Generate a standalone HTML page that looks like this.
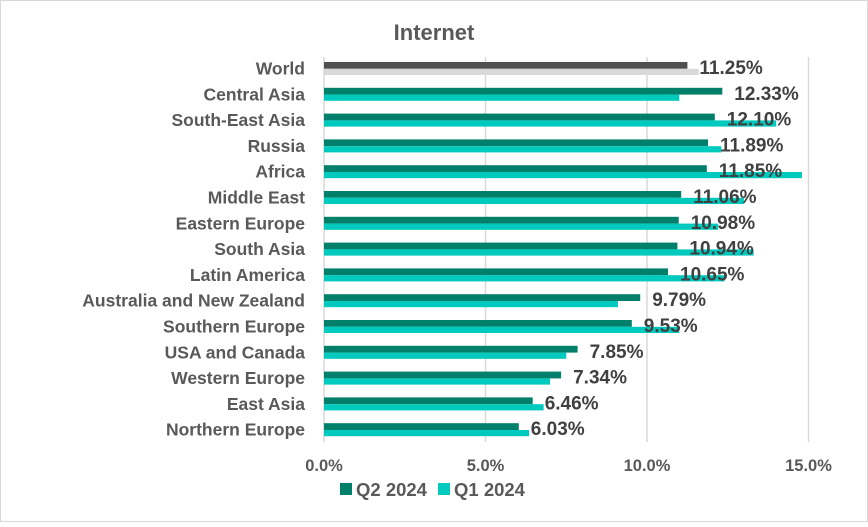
<!DOCTYPE html>
<html><head><style>
body{margin:0;background:#fff;}
svg text{font-family:"Liberation Sans",Arial,sans-serif;}
</style></head><body>
<svg width="868" height="522" xmlns="http://www.w3.org/2000/svg">
<rect x="0.5" y="0.5" width="867" height="521" fill="#fff" stroke="#d9d9d9"/>
<text x="434" y="40" text-anchor="middle" font-size="22" font-weight="bold" fill="#595959">Internet</text>
<g stroke="#d9d9d9" stroke-width="1.5">
<line x1="324" y1="57" x2="324" y2="442"/>
<line x1="485.5" y1="57" x2="485.5" y2="442"/>
<line x1="647" y1="57" x2="647" y2="442"/>
<line x1="808.5" y1="57" x2="808.5" y2="442"/>
</g>
<g>
<rect x="324" y="62" width="363.4" height="6.8" fill="#505050"/><rect x="324" y="68.8" width="374.7" height="6.2" fill="#d9d9d9"/>
<rect x="324" y="87.8" width="398.3" height="6.8" fill="#00806a"/><rect x="324" y="94.6" width="355.3" height="6.2" fill="#00c9bd"/>
<rect x="324" y="113.6" width="390.8" height="6.8" fill="#00806a"/><rect x="324" y="120.4" width="452.2" height="6.2" fill="#00c9bd"/>
<rect x="324" y="139.4" width="384.0" height="6.8" fill="#00806a"/><rect x="324" y="146.2" width="397.3" height="6.2" fill="#00c9bd"/>
<rect x="324" y="165.2" width="382.8" height="6.8" fill="#00806a"/><rect x="324" y="172.0" width="478.0" height="6.2" fill="#00c9bd"/>
<rect x="324" y="191.0" width="357.2" height="6.8" fill="#00806a"/><rect x="324" y="197.8" width="419.9" height="6.2" fill="#00c9bd"/>
<rect x="324" y="216.8" width="354.7" height="6.8" fill="#00806a"/><rect x="324" y="223.6" width="394.1" height="6.2" fill="#00c9bd"/>
<rect x="324" y="242.6" width="353.4" height="6.8" fill="#00806a"/><rect x="324" y="249.4" width="429.6" height="6.2" fill="#00c9bd"/>
<rect x="324" y="268.4" width="344.0" height="6.8" fill="#00806a"/><rect x="324" y="275.2" width="400.5" height="6.2" fill="#00c9bd"/>
<rect x="324" y="294.2" width="316.2" height="6.8" fill="#00806a"/><rect x="324" y="301.0" width="293.9" height="6.2" fill="#00c9bd"/>
<rect x="324" y="320.0" width="307.8" height="6.8" fill="#00806a"/><rect x="324" y="326.8" width="355.3" height="6.2" fill="#00c9bd"/>
<rect x="324" y="345.8" width="253.6" height="6.8" fill="#00806a"/><rect x="324" y="352.6" width="242.3" height="6.2" fill="#00c9bd"/>
<rect x="324" y="371.6" width="237.1" height="6.8" fill="#00806a"/><rect x="324" y="378.4" width="226.1" height="6.2" fill="#00c9bd"/>
<rect x="324" y="397.4" width="208.7" height="6.8" fill="#00806a"/><rect x="324" y="404.2" width="219.6" height="6.2" fill="#00c9bd"/>
<rect x="324" y="423.2" width="194.8" height="6.8" fill="#00806a"/><rect x="324" y="430.0" width="205.1" height="6.2" fill="#00c9bd"/>
</g>
<g font-size="17.5" font-weight="bold" fill="#595959" text-anchor="end">
<text x="305" y="74.5">World</text>
<text x="305" y="100.3">Central Asia</text>
<text x="305" y="126.1">South-East Asia</text>
<text x="305" y="151.9">Russia</text>
<text x="305" y="177.7">Africa</text>
<text x="305" y="203.5">Middle East</text>
<text x="305" y="229.3">Eastern Europe</text>
<text x="305" y="255.1">South Asia</text>
<text x="305" y="280.9">Latin America</text>
<text x="305" y="306.7">Australia and New Zealand</text>
<text x="305" y="332.5">Southern Europe</text>
<text x="305" y="358.3">USA and Canada</text>
<text x="305" y="384.1">Western Europe</text>
<text x="305" y="409.9">East Asia</text>
<text x="305" y="435.7">Northern Europe</text>
</g>
<g font-size="19" font-weight="bold" fill="#404040">
<text x="699.4" y="74">11.25%</text>
<text x="734.3" y="99.8">12.33%</text>
<text x="726.8" y="125.6">12.10%</text>
<text x="720.0" y="151.4">11.89%</text>
<text x="718.8" y="177.2">11.85%</text>
<text x="693.2" y="203">11.06%</text>
<text x="690.7" y="228.8">10.98%</text>
<text x="689.4" y="254.6">10.94%</text>
<text x="680.0" y="280.4">10.65%</text>
<text x="652.2" y="306.2">9.79%</text>
<text x="643.8" y="332">9.53%</text>
<text x="589.6" y="357.8">7.85%</text>
<text x="573.1" y="383.6">7.34%</text>
<text x="544.7" y="409.4">6.46%</text>
<text x="530.8" y="435.2">6.03%</text>
</g>
<g font-size="16.5" font-weight="bold" fill="#595959" text-anchor="middle">
<text x="324" y="471">0.0%</text><text x="485.5" y="471">5.0%</text><text x="647" y="471">10.0%</text><text x="808.5" y="471">15.0%</text>
</g>
<rect x="340" y="483" width="12" height="12" fill="#00806a"/>
<text x="356" y="496" font-size="18.5" font-weight="bold" fill="#595959">Q2 2024</text>
<rect x="438" y="483" width="12" height="12" fill="#00c9bd"/>
<text x="454" y="496" font-size="18.5" font-weight="bold" fill="#595959">Q1 2024</text>
</svg>
</body></html>
